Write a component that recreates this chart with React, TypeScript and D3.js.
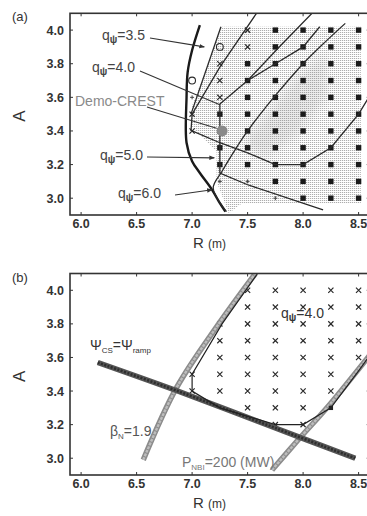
import * as d3 from "d3";

type Pt = [number, number];

const W = 367;
const H = 516;

// axes
const xTicks = [6.0, 6.5, 7.0, 7.5, 8.0, 8.5];
const yTicks = [3.0, 3.2, 3.4, 3.6, 3.8, 4.0];

// grid of calculated cases: R columns, A rows
const gridR = [7.0, 7.25, 7.5, 7.75, 8.0, 8.25, 8.5];
const gridA = [4.0, 3.9, 3.8, 3.7, 3.6, 3.5, 3.4, 3.3, 3.2, 3.1, 3.0];

// panel (a) marker codes per row (s = filled square, x = cross, o = open circle, + = plus, . = none)
const markersA = [
  "..xssss",
  ".oxssss",
  ".xsssss",
  "oxsssss",
  "+xsssss",
  "xssssss",
  "xssssss",
  ".ssssss",
  ".ssssss",
  ".++ssss",
  "...+sss",
];

// panel (b) marker codes per row
const markersB = [
  "..xxxxx",
  "..xxxxx",
  ".xxxxxx",
  ".xxxxxx",
  ".xxxxxx",
  "xxxxxx.",
  "xxxxxx.",
  "..xxx..",
  "...xx..",
];

// panel (a) curves
const boundaryA: Pt[] = [
  [7.07, 4.03], [7.0, 3.88], [6.96, 3.75], [6.95, 3.6], [6.95, 3.33],
  [7.0, 3.22], [7.07, 3.15], [7.18, 3.05], [7.25, 2.97], [7.3, 2.92],
];
const contourA1: Pt[] = [[7.26, 4.02], [6.99, 3.5]];
const contourA2: Pt[] = [[7.58, 4.1], [7.25, 3.78], [7.0, 3.5], [6.99, 3.4]];
const contourA3: Pt[] = [[8.08, 4.1], [7.8, 3.91], [7.5, 3.7], [7.25, 3.56], [7.25, 3.15], [7.5, 3.08], [8.18, 2.93]];
const contourA4: Pt[] = [[7.5, 3.7], [7.75, 3.8], [8.0, 3.9], [8.15, 4.02]];
const contourA5: Pt[] = [
  [7.31, 2.92], [7.19, 3.06], [7.27, 3.16], [7.38, 3.28], [7.5, 3.4], [7.65, 3.53],
  [7.8, 3.65], [8.0, 3.8], [8.2, 3.93], [8.38, 4.04],
];
const contourA6: Pt[] = [
  [7.0, 3.4], [7.25, 3.33], [7.5, 3.27], [7.75, 3.2], [8.0, 3.2], [8.25, 3.3], [8.5, 3.5], [8.62, 3.63],
];
const shadeA: Pt[] = [
  [7.27, 4.02], [8.52, 4.02], [8.52, 2.97], [7.45, 2.97], [7.33, 2.91], [7.22, 3.1],
  [7.22, 3.28], [7.0, 3.42], [7.0, 3.55],
];
const darkA: Pt[] = [
  [7.45, 3.33], [7.65, 3.47], [7.95, 3.72], [8.2, 3.86], [8.2, 3.6], [7.95, 3.38], [7.65, 3.25],
];
const demoCrest: Pt = [7.27, 3.4];

// panel (b) curves
const psiLine: Pt[] = [[6.15, 3.57], [6.87, 3.4], [7.75, 3.18], [8.47, 3.0]];
const betaLine: Pt[] = [[6.56, 2.99], [6.86, 3.42], [7.24, 3.8], [7.57, 4.1]];
const pnbiLine: Pt[] = [[7.72, 2.93], [7.97, 3.12], [8.24, 3.32], [8.62, 3.63]];
const qLineB: Pt[] = [
  [7.59, 4.1], [7.27, 3.8], [7.0, 3.5], [7.0, 3.4], [7.25, 3.3], [7.75, 3.2],
  [8.0, 3.2], [8.25, 3.3], [8.5, 3.52], [8.62, 3.63],
];

const x = d3.scaleLinear([5.9, 8.6], [70, 369.7]);
const yA = d3.scaleLinear([2.9, 4.1], [215, 13.3]);
const yB = d3.scaleLinear([2.9, 4.1], [475, 273.5]);
const fmt = d3.format(".1f");
const font = "'Liberation Sans', Arial, sans-serif";

function Marker({ code, cx, cy }: { code: string; cx: number; cy: number }) {
  if (code === "s")
    return <rect x={cx - 2.7} y={cy - 2.7} width={5.4} height={5.4} fill="#1a1a1a" />;
  if (code === "x")
    return (
      <path
        d={`M${cx - 2.6},${cy - 2.6}L${cx + 2.6},${cy + 2.6}M${cx - 2.6},${cy + 2.6}L${cx + 2.6},${cy - 2.6}`}
        stroke="#2a2a2a"
        strokeWidth={1.2}
      />
    );
  if (code === "o")
    return <circle cx={cx} cy={cy} r={3.4} fill="none" stroke="#2a2a2a" strokeWidth={1.1} />;
  if (code === "+")
    return (
      <path
        d={`M${cx - 2},${cy}L${cx + 2},${cy}M${cx},${cy - 2}L${cx},${cy + 2}`}
        stroke="#444"
        strokeWidth={1}
      />
    );
  return null;
}

function Frame({ y, label }: { y: d3.ScaleLinear<number, number>; label: string }) {
  const [x0, x1] = x.range();
  const [yb, yt] = y.range();
  return (
    <g fontFamily={font}>
      <rect x={x0} y={yt} width={x1 - x0} height={yb - yt} fill="none" stroke="#333" strokeWidth={1.6} />
      {xTicks.map((t) => (
        <g key={"x" + t}>
          <line x1={x(t)} x2={x(t)} y1={yb} y2={yb - 3} stroke="#333" strokeWidth={1} />
          <line x1={x(t)} x2={x(t)} y1={yt} y2={yt + 3} stroke="#333" strokeWidth={1} />
          <text x={x(t)} y={yb + 12.5} textAnchor="middle" fontSize={12.5} fontWeight="bold" fill="#333">
            {fmt(t)}
          </text>
        </g>
      ))}
      {yTicks.map((t) => (
        <g key={"y" + t}>
          <line x1={x0} x2={x0 + 3} y1={y(t)} y2={y(t)} stroke="#333" strokeWidth={1} />
          <line x1={x1} x2={x1 - 3} y1={y(t)} y2={y(t)} stroke="#333" strokeWidth={1} />
          <text x={64} y={y(t)} dy="0.36em" textAnchor="end" fontSize={12.5} fontWeight="bold" fill="#333">
            {fmt(t)}
          </text>
        </g>
      ))}
      <text x={193} y={yb + 33} fontSize={15} fill="#333">
        R <tspan fontSize={12}>(m)</tspan>
      </text>
      <text
        transform={`translate(25,${(yb + yt) / 2 + 2}) rotate(-90)`}
        textAnchor="middle"
        fontSize={17}
        fill="#333"
      >
        A
      </text>
      <text x={12} y={yt + 8} fontSize={13} fill="#333">
        {label}
      </text>
    </g>
  );
}

function QLabel({ px, py, value, color }: { px: number; py: number; value: string; color: string }) {
  return (
    <text x={px} y={py} fontFamily={font} fontSize={14} fill={color}>
      q<tspan dy={3} fontSize={10} fontWeight="bold">ψ</tspan>
      <tspan dy={-3}>={value}</tspan>
    </text>
  );
}

export default function App() {
  const lineA = d3.line<Pt>().x((d) => x(d[0])).y((d) => yA(d[1]));
  const lineB = d3.line<Pt>().x((d) => x(d[0])).y((d) => yB(d[1]));
  const curveB = d3.line<Pt>().x((d) => x(d[0])).y((d) => yB(d[1])).curve(d3.curveCatmullRom);
  const curveA = d3.line<Pt>().x((d) => x(d[0])).y((d) => yA(d[1])).curve(d3.curveCatmullRom);

  const arrows: { from: Pt; to: Pt; head: boolean }[] = [
    { from: [x.invert(150), yA.invert(38)], to: [7.11, 3.9], head: true },
    { from: [x.invert(140), yA.invert(71)], to: [7.25, 3.556], head: false },
    { from: [x.invert(147), yA.invert(107)], to: [7.22, 3.416], head: false },
    { from: [x.invert(147), yA.invert(157)], to: [7.2, 3.24], head: true },
    { from: [x.invert(175), yA.invert(195)], to: [7.18, 3.05], head: true },
  ];

  return (
    <svg
      width={W}
      height={H}
      viewBox={`0 0 ${W} ${H}`}
      style={{ position: "absolute", left: 0, top: 0, background: "#fff" }}
    >
      <defs>
        <pattern id="dots" width={2} height={2} patternUnits="userSpaceOnUse">
          <rect width={1.2} height={1} fill="#adadad" />
        </pattern>
        <filter id="blur" x="-30%" y="-30%" width="160%" height="160%">
          <feGaussianBlur stdDeviation={5} />
        </filter>
        <marker id="head" viewBox="0 0 10 10" refX={9} refY={5} markerWidth={5} markerHeight={5} orient="auto">
          <path d="M0,1L10,5L0,9z" fill="#333" />
        </marker>
        <clipPath id="clipA">
          <rect x={70} y={13.3} width={299.7} height={201.7} />
        </clipPath>
        <clipPath id="clipB">
          <rect x={70} y={273.5} width={299.7} height={201.5} />
        </clipPath>
      </defs>

      {/* panel (a) */}
      <g clipPath="url(#clipA)">
        <path d={lineA(shadeA) + "Z"} fill="url(#dots)" />
        <path d={lineA(darkA) + "Z"} fill="#888" opacity={0.16} filter="url(#blur)" />
        {markersA.map((row, i) =>
          row.split("").map((c, j) => (
            <Marker key={`a${i}-${j}`} code={c} cx={x(gridR[j])} cy={yA(gridA[i])} />
          ))
        )}
        <path d={curveA(boundaryA) ?? ""} fill="none" stroke="#1a1a1a" strokeWidth={2.4} />
        {[contourA1, contourA2, contourA3, contourA4, contourA6].map((c, i) => (
          <path key={"c" + i} d={lineA(c) ?? ""} fill="none" stroke="#2a2a2a" strokeWidth={1.3} />
        ))}
        <path d={curveA(contourA5) ?? ""} fill="none" stroke="#2a2a2a" strokeWidth={1.3} />
        <circle cx={x(demoCrest[0])} cy={yA(demoCrest[1])} r={5.5} fill="#8a8a8a" />
      </g>
      {arrows.map((a, i) => (
        <line
          key={"ar" + i}
          x1={x(a.from[0])}
          y1={yA(a.from[1])}
          x2={x(a.to[0])}
          y2={yA(a.to[1])}
          stroke="#333"
          strokeWidth={1.1}
          markerEnd={a.head ? "url(#head)" : undefined}
        />
      ))}
      <QLabel px={102} py={40} value="3.5" color="#444" />
      <QLabel px={92} py={72} value="4.0" color="#444" />
      <text x={75} y={106} fontFamily={font} fontSize={14} fill="#8a8a8a">
        Demo-CREST
      </text>
      <QLabel px={100} py={160} value="5.0" color="#444" />
      <QLabel px={118} py={198} value="6.0" color="#444" />
      <Frame y={yA} label="(a)" />

      {/* panel (b) */}
      <g clipPath="url(#clipB)">
        {markersB.map((row, i) =>
          row.split("").map((c, j) => (
            <Marker key={`b${i}-${j}`} code={c} cx={x(gridR[j])} cy={yB(gridA[i])} />
          ))
        )}
        <path d={curveB(betaLine) ?? ""} fill="none" stroke="#8c8c8c" strokeWidth={5.5} />
        <path d={curveB(betaLine) ?? ""} fill="none" stroke="#bdbdbd" strokeWidth={2.4} strokeDasharray="3,1" />
        <path d={curveB(pnbiLine) ?? ""} fill="none" stroke="#8c8c8c" strokeWidth={5.5} />
        <path d={curveB(pnbiLine) ?? ""} fill="none" stroke="#bdbdbd" strokeWidth={2.4} strokeDasharray="3,1" />
        <path d={curveB(psiLine) ?? ""} fill="none" stroke="#555" strokeWidth={5.5} />
        <path d={curveB(psiLine) ?? ""} fill="none" stroke="#2e2e2e" strokeWidth={2.6} strokeDasharray="2,1.5" />
        <path d={lineB(qLineB) ?? ""} fill="none" stroke="#222" strokeWidth={1.2} />
        <rect x={x(8.25) - 2.2} y={yB(3.3) - 2.2} width={4.4} height={4.4} fill="#222" />
      </g>
      <text x={90} y={350} fontFamily={font} fontSize={14} fill="#333">
        Ψ<tspan dy={3} fontSize={8}>CS</tspan>
        <tspan dy={-3}>=Ψ</tspan>
        <tspan dy={3} fontSize={8}>ramp</tspan>
      </text>
      <text x={110} y={436} fontFamily={font} fontSize={14} fill="#555">
        β<tspan dy={3} fontSize={8}>N</tspan>
        <tspan dy={-3}>=1.9</tspan>
      </text>
      <text x={182} y={467} fontFamily={font} fontSize={14} fill="#777">
        P<tspan dy={3} fontSize={8}>NBI</tspan>
        <tspan dy={-3}>=200 (MW)</tspan>
      </text>
      <QLabel px={281} py={318} value="4.0" color="#333" />
      <Frame y={yB} label="(b)" />
    </svg>
  );
}
